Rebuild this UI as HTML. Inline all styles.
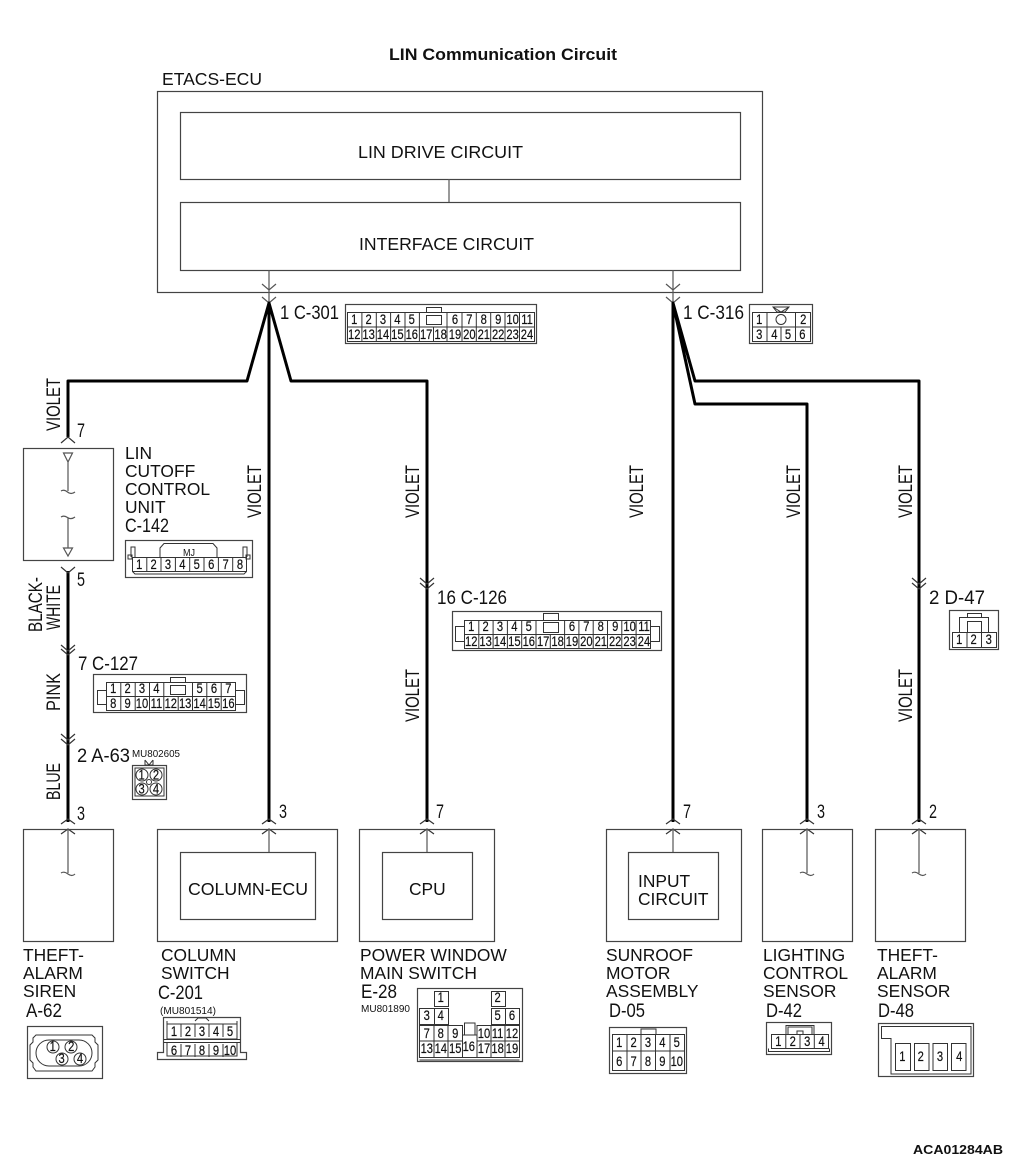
<!DOCTYPE html>
<html><head><meta charset="utf-8"><style>
html,body{margin:0;padding:0;background:#fff}
svg{display:block;font-family:"Liberation Sans",sans-serif;fill:#111}
.b{fill:none;stroke:#444;stroke-width:1.2}
.c{fill:none;stroke:#333;stroke-width:1}
.w{fill:none;stroke:#000;stroke-width:3}
.t{fill:none;stroke:#555;stroke-width:1.2}
.l{font-size:17.4px}
.p{font-size:19px}
.n{font-size:14px;text-anchor:middle;stroke:#111;stroke-width:.2}
.s{font-size:10.5px}
</style></head><body>
<svg width="1010" height="1166" viewBox="0 0 1010 1166" xmlns="http://www.w3.org/2000/svg">
<text x="389" y="60" font-weight="bold" font-size="16.5" textLength="228" lengthAdjust="spacingAndGlyphs">LIN Communication Circuit</text>
<text x="162" y="85" class="l" textLength="100" lengthAdjust="spacingAndGlyphs">ETACS-ECU</text>
<rect class="b" x="157.5" y="91.5" width="605" height="201"/>
<rect class="b" x="180.5" y="112.5" width="560" height="67"/>
<rect class="b" x="180.5" y="202.5" width="560" height="68"/>
<path class="t" d="M449 179V202"/>
<text x="358" y="158" class="l" textLength="165" lengthAdjust="spacingAndGlyphs">LIN DRIVE CIRCUIT</text>
<text x="359" y="250" class="l" textLength="175" lengthAdjust="spacingAndGlyphs">INTERFACE CIRCUIT</text>

<!-- wires -->
<path class="t" d="M269 270V304M673 270V304"/>
<path class="t" d="M262 284L269 290L276 284M262 297L269 303L276 297M666 284L673 290L680 284M666 297L673 303L680 297"/>
<path class="w" stroke-linejoin="round" d="M68 437V381H247L269 303L291 381H427V822M269 303V822"/>
<path class="w" stroke-linejoin="round" d="M919 822V381H695L673 303V822M673 303L695 404H807V822"/>
<path class="w" d="M68 571V822"/>

<!-- chevrons -->
<g class="t" style="fill:none;stroke:#333">
<path fill="none" d="M61 443L68 437L75 443M61 567L68 573L75 567"/>
<path fill="none" d="M61 645L68 651L75 645M61 649L68 655L75 649M61 734L68 740L75 734M61 739L68 745L75 739"/>
<path fill="none" d="M420 578L427 584L434 578M420 583L427 589L434 583M912 578L919 584L926 578M912 583L919 589L926 583"/>
<path fill="none" d="M61 824L68 819L75 824M61 834L68 829L75 834M262 824L269 819L276 824M262 834L269 829L276 834M420 824L427 819L434 824M420 834L427 829L434 834M666 824L673 819L680 824M666 834L673 829L680 834M800 824L807 819L814 824M800 834L807 829L814 834M912 824L919 819L926 824M912 834L919 829L926 834"/>
</g>

<!-- wire labels -->
<g class="p">
<text transform="translate(60,431) rotate(-90)" textLength="53" lengthAdjust="spacingAndGlyphs">VIOLET</text>
<text transform="translate(261,518) rotate(-90)" textLength="53" lengthAdjust="spacingAndGlyphs">VIOLET</text>
<text transform="translate(419,518) rotate(-90)" textLength="53" lengthAdjust="spacingAndGlyphs">VIOLET</text>
<text transform="translate(643,518) rotate(-90)" textLength="53" lengthAdjust="spacingAndGlyphs">VIOLET</text>
<text transform="translate(800,518) rotate(-90)" textLength="53" lengthAdjust="spacingAndGlyphs">VIOLET</text>
<text transform="translate(912,518) rotate(-90)" textLength="53" lengthAdjust="spacingAndGlyphs">VIOLET</text>
<text transform="translate(419,722) rotate(-90)" textLength="53" lengthAdjust="spacingAndGlyphs">VIOLET</text>
<text transform="translate(912,722) rotate(-90)" textLength="53" lengthAdjust="spacingAndGlyphs">VIOLET</text>
<text transform="translate(42,632) rotate(-90)" textLength="55" lengthAdjust="spacingAndGlyphs">BLACK-</text>
<text transform="translate(60,630) rotate(-90)" textLength="45" lengthAdjust="spacingAndGlyphs">WHITE</text>
<text transform="translate(60,711) rotate(-90)" textLength="38" lengthAdjust="spacingAndGlyphs">PINK</text>
<text transform="translate(60,800) rotate(-90)" textLength="37" lengthAdjust="spacingAndGlyphs">BLUE</text>
</g>

<!-- pin / connector labels -->
<g class="p">
<text x="77" y="437" textLength="8" lengthAdjust="spacingAndGlyphs">7</text>
<text x="77" y="586" textLength="8" lengthAdjust="spacingAndGlyphs">5</text>
<text x="78" y="670" textLength="60" lengthAdjust="spacingAndGlyphs">7 C-127</text>
<text x="77" y="762" textLength="53" lengthAdjust="spacingAndGlyphs">2 A-63</text>
<text x="77" y="820" textLength="8" lengthAdjust="spacingAndGlyphs">3</text>
<text x="279" y="818" textLength="8" lengthAdjust="spacingAndGlyphs">3</text>
<text x="436" y="818" textLength="8" lengthAdjust="spacingAndGlyphs">7</text>
<text x="683" y="818" textLength="8" lengthAdjust="spacingAndGlyphs">7</text>
<text x="817" y="818" textLength="8" lengthAdjust="spacingAndGlyphs">3</text>
<text x="929" y="818" textLength="8" lengthAdjust="spacingAndGlyphs">2</text>
<text x="280" y="319" textLength="59" lengthAdjust="spacingAndGlyphs">1 C-301</text>
<text x="683" y="319" textLength="61" lengthAdjust="spacingAndGlyphs">1 C-316</text>
<text x="437" y="604" textLength="70" lengthAdjust="spacingAndGlyphs">16 C-126</text>
<text x="929" y="604" textLength="56" lengthAdjust="spacingAndGlyphs">2 D-47</text>
<text x="125" y="532" textLength="44" lengthAdjust="spacingAndGlyphs">C-142</text>
<text x="26" y="1017" textLength="36" lengthAdjust="spacingAndGlyphs">A-62</text>
<text x="158" y="999" textLength="45" lengthAdjust="spacingAndGlyphs">C-201</text>
<text x="361" y="998" textLength="36" lengthAdjust="spacingAndGlyphs">E-28</text>
<text x="609" y="1017" textLength="36" lengthAdjust="spacingAndGlyphs">D-05</text>
<text x="766" y="1017" textLength="36" lengthAdjust="spacingAndGlyphs">D-42</text>
<text x="878" y="1017" textLength="36" lengthAdjust="spacingAndGlyphs">D-48</text>
</g>
<g class="s">
<text x="132" y="757" textLength="48" lengthAdjust="spacingAndGlyphs">MU802605</text>
<text x="160" y="1014" textLength="56" lengthAdjust="spacingAndGlyphs">(MU801514)</text>
<text x="361" y="1012" textLength="49" lengthAdjust="spacingAndGlyphs">MU801890</text>
</g>

<!-- LIN cutoff unit -->
<rect class="b" x="23.5" y="448.5" width="90" height="112"/>
<path class="t" d="M63.5 453H72.5L68 462ZM68 462V491M61 491Q64 489 67.5 492T75 492M61 517Q64 515 67.5 517.5T75 517M68 518V548M63.5 548H72.5L68 556Z"/>
<g class="l">
<text x="125" y="459">LIN</text>
<text x="125" y="477">CUTOFF</text>
<text x="125" y="495">CONTROL</text>
<text x="125" y="513">UNIT</text>
</g>

<!-- bottom boxes -->
<rect class="b" x="23.5" y="829.5" width="90" height="112"/>
<path class="t" d="M68 829V873M61 873Q64 871 68 874T75 874"/>
<rect class="b" x="157.5" y="829.5" width="180" height="112"/>
<rect class="b" x="180.5" y="852.5" width="135" height="67"/>
<path class="t" d="M269 829V852"/>
<text x="188" y="895" class="l" textLength="120" lengthAdjust="spacingAndGlyphs">COLUMN-ECU</text>
<rect class="b" x="359.5" y="829.5" width="135" height="112"/>
<rect class="b" x="382.5" y="852.5" width="90" height="67"/>
<path class="t" d="M427 829V852"/>
<text x="409" y="895" class="l">CPU</text>
<rect class="b" x="606.5" y="829.5" width="135" height="112"/>
<rect class="b" x="628.5" y="852.5" width="90" height="67"/>
<path class="t" d="M673 829V852"/>
<text x="638" y="887" class="l">INPUT</text>
<text x="638" y="905" class="l">CIRCUIT</text>
<rect class="b" x="762.5" y="829.5" width="90" height="112"/>
<path class="t" d="M807 829V873M800 873Q803 871 807 874T814 874"/>
<rect class="b" x="875.5" y="829.5" width="90" height="112"/>
<path class="t" d="M919 829V873M912 873Q915 871 919 874T926 874"/>

<!-- bottom labels -->
<g class="l">
<text x="23" y="961">THEFT-</text><text x="23" y="979">ALARM</text><text x="23" y="997">SIREN</text>
<text x="161" y="961">COLUMN</text><text x="161" y="979">SWITCH</text>
<text x="360" y="961">POWER WINDOW</text><text x="360" y="979">MAIN SWITCH</text>
<text x="606" y="961">SUNROOF</text><text x="606" y="979">MOTOR</text><text x="606" y="997">ASSEMBLY</text>
<text x="763" y="961">LIGHTING</text><text x="763" y="979">CONTROL</text><text x="763" y="997">SENSOR</text>
<text x="877" y="961">THEFT-</text><text x="877" y="979">ALARM</text><text x="877" y="997">SENSOR</text>
</g>

<!-- C-301 -->
<rect class="b" x="345.5" y="304.5" width="191" height="39"/>
<path class="c" d="M347.5 312.5H534.5V341.5H347.5ZM347.5 327H534.5M361.9 312.5V341.5M376.3 312.5V341.5M390.6 312.5V341.5M405 312.5V341.5M419.4 327V341.5M419.4 312.5V327M447 312.5V341.5M433.5 327V341.5M462 312.5V341.5M476.3 312.5V341.5M490.7 312.5V341.5M505 312.5V341.5M519.5 312.5V341.5"/>
<rect class="c" x="426.5" y="315.5" width="15" height="9"/><rect class="c" x="426.5" y="307.5" width="15" height="5"/>
<g class="n" transform="translate(347,324) scale(.8,1)">
<text x="9">1</text><text x="27">2</text><text x="45">3</text><text x="63">4</text><text x="81">5</text><text x="135">6</text><text x="153">7</text><text x="171">8</text><text x="189">9</text><text x="207">10</text><text x="225">11</text>
<text x="9" y="15">12</text><text x="27" y="15">13</text><text x="45" y="15">14</text><text x="63" y="15">15</text><text x="81" y="15">16</text><text x="99" y="15">17</text><text x="117" y="15">18</text><text x="135" y="15">19</text><text x="153" y="15">20</text><text x="171" y="15">21</text><text x="189" y="15">22</text><text x="207" y="15">23</text><text x="225" y="15">24</text>
</g>

<!-- C-316 -->
<rect class="b" x="749.5" y="304.5" width="63" height="39"/>
<path class="c" d="M752.5 312.5H810.5V341.5H752.5ZM752.5 327H810.5M767 312.5V341.5M795.5 312.5V341.5M781 327V341.5"/>
<circle class="c" cx="781" cy="319.5" r="5"/>
<path class="c" d="M773 307H789L785 312H777ZM773 307L781 312L789 307"/>
<g class="n" transform="translate(0,324) scale(.8,1)">
<text x="949">1</text><text x="1004">2</text><text x="949" y="15">3</text><text x="968" y="15">4</text><text x="985" y="15">5</text><text x="1003" y="15">6</text>
</g>

<!-- C-142 -->
<rect class="b" x="125.5" y="540.5" width="127" height="37"/>
<path class="c" d="M132.5 557.5H246.5V571.5L244 574H135L132.5 571.5ZM132.5 571.5H246.5M146.8 557.5V571.5M161 557.5V571.5M175.4 557.5V571.5M189.7 557.5V571.5M204 557.5V571.5M218.4 557.5V571.5M232.7 557.5V571.5"/>
<path class="c" d="M160 557.5V548L164 543.5H213L217 548V557.5M131 557V547H135V557M243 557V547H247V557M128 555H132V559H128ZM246 555H250V559H246Z"/>
<text x="183" y="556" font-size="10.5" textLength="12" lengthAdjust="spacingAndGlyphs">MJ</text>
<g class="n" transform="translate(132,569) scale(.8,1)">
<text x="9">1</text><text x="27">2</text><text x="45">3</text><text x="63">4</text><text x="81">5</text><text x="99">6</text><text x="117">7</text><text x="135">8</text>
</g>

<!-- C-126 -->
<rect class="b" x="452.5" y="611.5" width="209" height="39"/>
<path class="c" d="M464.5 620.5H650.5V648.5H464.5ZM464.5 634.5H650.5M478.8 620.5V648.5M493.1 620.5V648.5M507.4 620.5V648.5M521.7 620.5V648.5M536 620.5V648.5M550.3 634.5V648.5M564.6 620.5V648.5M578.9 620.5V648.5M593.2 620.5V648.5M607.5 620.5V648.5M621.8 620.5V648.5M636.1 620.5V648.5"/>
<rect class="c" x="543.5" y="622.5" width="15" height="10"/><rect class="c" x="543.5" y="613.5" width="15" height="7"/>
<path class="c" d="M464.5 626.5H455.5V641.5H464.5M650.5 626.5H659.5V641.5H650.5"/>
<g class="n" transform="translate(464,631) scale(.8,1)">
<text x="9">1</text><text x="27">2</text><text x="45">3</text><text x="63">4</text><text x="81">5</text><text x="135">6</text><text x="153">7</text><text x="171">8</text><text x="189">9</text><text x="207">10</text><text x="225">11</text>
<text x="9" y="15">12</text><text x="27" y="15">13</text><text x="45" y="15">14</text><text x="63" y="15">15</text><text x="81" y="15">16</text><text x="99" y="15">17</text><text x="117" y="15">18</text><text x="135" y="15">19</text><text x="153" y="15">20</text><text x="171" y="15">21</text><text x="189" y="15">22</text><text x="207" y="15">23</text><text x="225" y="15">24</text>
</g>

<!-- D-47 -->
<rect class="b" x="949.5" y="610.5" width="49" height="39"/>
<path class="c" d="M952.5 632.5H996.5V647.5H952.5ZM967 632.5V647.5M981.5 632.5V647.5M959.5 632.5V617.5H988.5V632.5"/>
<rect class="c" x="967.5" y="621.5" width="14" height="11"/><rect class="c" x="967.5" y="613.5" width="14" height="4"/>
<g class="n" transform="translate(0,644) scale(.8,1)"><text x="1199">1</text><text x="1217">2</text><text x="1236">3</text></g>

<!-- C-127 -->
<rect class="b" x="93.5" y="674.5" width="153" height="38"/>
<path class="c" d="M106.5 682.5H235.5V710.5H106.5ZM106.5 696.5H235.5M120.8 682.5V710.5M135.2 682.5V710.5M149.5 682.5V710.5M163.8 682.5V710.5M178.2 696.5V710.5M192.5 682.5V710.5M206.8 682.5V710.5M221.2 682.5V710.5"/>
<rect class="c" x="170.5" y="685.5" width="15" height="9"/><rect class="c" x="170.5" y="677.5" width="15" height="5"/>
<path class="c" d="M106.5 690.5H97.5V704.5H106.5M235.5 690.5H244.5V704.5H235.5"/>
<g class="n" transform="translate(106,693) scale(.8,1)">
<text x="9">1</text><text x="27">2</text><text x="45">3</text><text x="63">4</text><text x="117">5</text><text x="135">6</text><text x="153">7</text>
<text x="9" y="15">8</text><text x="27" y="15">9</text><text x="45" y="15">10</text><text x="63" y="15">11</text><text x="81" y="15">12</text><text x="99" y="15">13</text><text x="117" y="15">14</text><text x="135" y="15">15</text><text x="153" y="15">16</text>
</g>

<!-- A-63 -->
<rect class="b" x="132.5" y="765.5" width="34" height="34" stroke-width="1.6"/>
<rect class="c" x="135" y="768" width="29" height="28" fill="none"/>
<path class="c" d="M145 760L149 765L153 760M145 760V765H153V760"/>
<circle class="c" cx="142" cy="775" r="6"/><circle class="c" cx="156" cy="775" r="6"/><circle class="c" cx="142" cy="789" r="6"/><circle class="c" cx="156" cy="789" r="6"/>
<circle class="c" cx="149" cy="782" r="2.5"/>
<g class="n" transform="translate(0,779.5) scale(.8,1)"><text x="177">1</text><text x="195">2</text><text x="177" y="14">3</text><text x="195" y="14">4</text></g>

<!-- A-62 -->
<rect class="b" x="27.5" y="1026.5" width="75" height="52"/>
<path class="c" d="M36 1035H92L95 1038V1042L98 1045V1060L95 1063V1067L92 1071H36L33 1067V1063L30 1060V1045L33 1042V1038Z"/>
<rect class="c" x="36" y="1040" width="56" height="26" rx="13"/>
<circle class="c" cx="53" cy="1047" r="6"/><circle class="c" cx="71" cy="1047" r="6"/><circle class="c" cx="62" cy="1059" r="6"/><circle class="c" cx="80" cy="1059" r="6"/>
<g class="n" transform="translate(0,1051) scale(.8,1)"><text x="66">1</text><text x="89">2</text><text x="77" y="12">3</text><text x="100" y="12">4</text></g>

<!-- C-201 -->
<path class="b" d="M163.5 1052.5V1017.5H240.5V1052.5H246.5V1059.5H157.5V1052.5Z"/>
<path class="c" d="M167 1021V1039H237V1021M163.5 1039.5H240.5M163.5 1042.5H240.5M167 1042.5V1056H237V1042.5M181 1024V1037M195 1024V1037M209 1024V1037M223 1024V1037M181 1044V1057M195 1044V1057M209 1044V1057M223 1044V1057M167 1024H237M195 1021L198 1018H206L209 1021"/>
<g class="n" transform="translate(0,1036) scale(.8,1)"><text x="217.5">1</text><text x="235">2</text><text x="252.5">3</text><text x="270">4</text><text x="287.5">5</text>
<text x="217.5" y="19">6</text><text x="235" y="19">7</text><text x="252.5" y="19">8</text><text x="270" y="19">9</text><text x="287.5" y="19">10</text></g>

<!-- E-28 -->
<rect class="b" x="417.5" y="988.5" width="105" height="73" stroke-width="1.6"/>
<path class="c" d="M434.5 991.5H448.5V1006.5H434.5ZM491.5 991.5H505.5V1006.5H491.5ZM434.5 1008.5H448.5V1024.5H419.5V1008.5H434.5ZM491.5 1008.5H519.5V1024.5H491.5ZM434.5 1008.5V1024.5M505.5 1008.5V1024.5"/>
<path class="c" d="M419.5 1025.5H462.5V1057.5H419.5ZM419.5 1041H462.5M434 1025.5V1057.5M448 1025.5V1057.5M477 1025.5H519.5V1057.5H477ZM477 1041H519.5M491 1025.5V1057.5M505 1025.5V1057.5M462.5 1035H477V1057.5H462.5M464.5 1035V1023H475V1035M419.5 1060H519.5"/>
<g class="n" transform="translate(0,1002) scale(.8,1)"><text x="551">1</text><text x="622">2</text>
<text x="533.5" y="18">3</text><text x="551" y="18">4</text><text x="622" y="18">5</text><text x="640" y="18">6</text>
<text x="533.5" y="36">7</text><text x="551" y="36">8</text><text x="569" y="36">9</text><text x="605" y="36">10</text><text x="622" y="36">11</text><text x="640" y="36">12</text>
<text x="533.5" y="51">13</text><text x="551" y="51">14</text><text x="569" y="51">15</text><text x="586" y="49">16</text><text x="605" y="51">17</text><text x="622" y="51">18</text><text x="640" y="51">19</text></g>

<!-- D-05 -->
<rect class="b" x="609.5" y="1027.5" width="77" height="46"/>
<path class="c" d="M612.5 1034.5H684.5V1070.5H612.5ZM612.5 1051H684.5M627 1034.5V1070.5M641 1034.5V1070.5M655.5 1034.5V1070.5M670 1034.5V1070.5M641 1034V1029H656V1034"/>
<g class="n" transform="translate(0,1047) scale(.8,1)"><text x="774">1</text><text x="792">2</text><text x="810">3</text><text x="828">4</text><text x="846">5</text>
<text x="774" y="19">6</text><text x="792" y="19">7</text><text x="810" y="19">8</text><text x="828" y="19">9</text><text x="846" y="19">10</text></g>

<!-- D-42 -->
<rect class="b" x="766.5" y="1022.5" width="65" height="32"/>
<path class="c" d="M771.5 1034.5H828.5V1048.5H771.5ZM785.8 1034.5V1048.5M800 1034.5V1048.5M814.3 1034.5V1048.5M786 1034.5V1025.5H814V1034.5M788 1034.5V1027H812V1034.5M797 1034V1031H803V1034M768.5 1048.5V1051.5H829.5V1048.5"/>
<g class="n" transform="translate(0,1046) scale(.8,1)"><text x="973">1</text><text x="991">2</text><text x="1009">3</text><text x="1027">4</text></g>

<!-- D-48 -->
<rect class="b" x="878.5" y="1023.5" width="95" height="53" stroke-width="1.6"/>
<path class="c" d="M881.5 1026.5H971V1074H891V1038.5H881.5Z"/>
<rect class="c" x="895.5" y="1043.5" width="15" height="27"/><rect class="c" x="914.5" y="1043.5" width="14.5" height="27"/><rect class="c" x="933" y="1043.5" width="14.5" height="27"/><rect class="c" x="951.5" y="1043.5" width="14.5" height="27"/>
<g class="n" transform="translate(0,1061) scale(.8,1)"><text x="1128">1</text><text x="1151">2</text><text x="1175">3</text><text x="1199">4</text></g>

<text x="913" y="1154" font-weight="bold" font-size="12.5" textLength="90" lengthAdjust="spacingAndGlyphs">ACA01284AB</text>
</svg>
</body></html>
